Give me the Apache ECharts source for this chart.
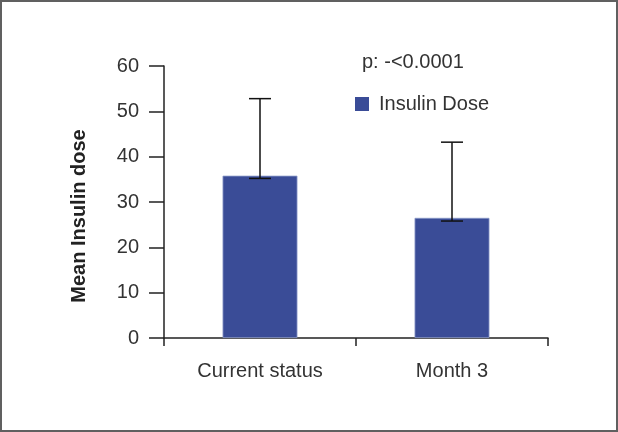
<!DOCTYPE html>
<html>
<head>
<meta charset="utf-8">
<script src="https://cdn.jsdelivr.net/npm/echarts@6/dist/echarts.min.js"></script>
<style>
html,body{margin:0;padding:0;background:#fff;}
#c{width:618px;height:432px;}
</style>
</head>
<body>
<div id="c"></div>
<script>
var categories = ['Current status', 'Month 3'];
var meanValues = [35.8, 26.5];
var errLow = [35.2, 25.8];
var errHigh = [52.8, 43.2];
var yTicks = [0, 10, 20, 30, 40, 50, 60];
var seriesName = 'Insulin Dose';
var yAxisTitle = 'Mean Insulin dose';
var pText = 'p: -<0.0001';

var chart = echarts.init(document.getElementById('c'), null, {renderer: 'canvas'});
var font = 'Liberation Sans, Arial, sans-serif';
var txt = '#333333';

var option = {
  animation: false,
  backgroundColor: '#ffffff',
  graphic: [
    {type: 'rect', shape: {x: 1, y: 1, width: 616, height: 430}, style: {fill: 'none', stroke: '#606060', lineWidth: 2}, silent: true},
    {type: 'text', left: 362, top: 52, style: {text: pText, fontSize: 20, fontFamily: font, fill: txt}},
    {type: 'text', x: 79, y: 216, rotation: Math.PI / 2,
     style: {text: yAxisTitle, fontSize: 20, fontWeight: 'bold', fontFamily: font, fill: '#222', align: 'center', verticalAlign: 'middle'}}
  ],
  legend: {
    data: [seriesName],
    left: 350,
    top: 89,
    itemWidth: 14,
    itemHeight: 14,
    itemGap: 10,
    icon: 'rect',
    itemStyle: {borderWidth: 0},
    textStyle: {fontSize: 20, fontFamily: font, color: txt, padding: [0, 0, 0, 5]}
  },
  grid: {left: 164, right: 70, top: 66, bottom: 94, containLabel: false},
  xAxis: {
    type: 'category',
    data: categories,
    axisLine: {lineStyle: {color: '#222', width: 1.5}},
    axisTick: {show: true, length: 8, lineStyle: {color: '#222', width: 1.5}},
    axisLabel: {fontSize: 20, fontFamily: font, color: txt, margin: 23}
  },
  yAxis: {
    type: 'value',
    min: yTicks[0],
    max: yTicks[yTicks.length - 1],
    interval: 10,
    axisLine: {show: true, lineStyle: {color: '#222', width: 1.5}},
    axisTick: {show: true, length: 15, lineStyle: {color: '#222', width: 1.5}},
    axisLabel: {fontSize: 20, fontFamily: font, color: txt, margin: 25},
    splitLine: {show: false}
  },
  series: [
    {
      name: seriesName,
      type: 'bar',
      data: meanValues,
      barWidth: '39%',
      itemStyle: {color: '#3a4c97', borderColor: '#8a98c8', borderWidth: 0.8}
    },
    {
      name: 'err',
      type: 'custom',
      data: categories.map(function (c, i) { return [i, errLow[i], errHigh[i]]; }),
      encode: {x: 0, y: [1, 2]},
      z: 5,
      renderItem: function (params, api) {
        var x = api.value(0);
        var lo = api.coord([x, api.value(1)]);
        var hi = api.coord([x, api.value(2)]);
        var hw = 11;
        var st = {stroke: '#111', lineWidth: 1.5};
        return {
          type: 'group',
          children: [
            {type: 'line', shape: {x1: lo[0], y1: lo[1], x2: hi[0], y2: hi[1]}, style: st},
            {type: 'line', shape: {x1: hi[0] - hw, y1: hi[1], x2: hi[0] + hw, y2: hi[1]}, style: st},
            {type: 'line', shape: {x1: lo[0] - hw, y1: lo[1], x2: lo[0] + hw, y2: lo[1]}, style: st}
          ]
        };
      }
    }
  ]
};
chart.setOption(option);
</script>
</body>
</html>
